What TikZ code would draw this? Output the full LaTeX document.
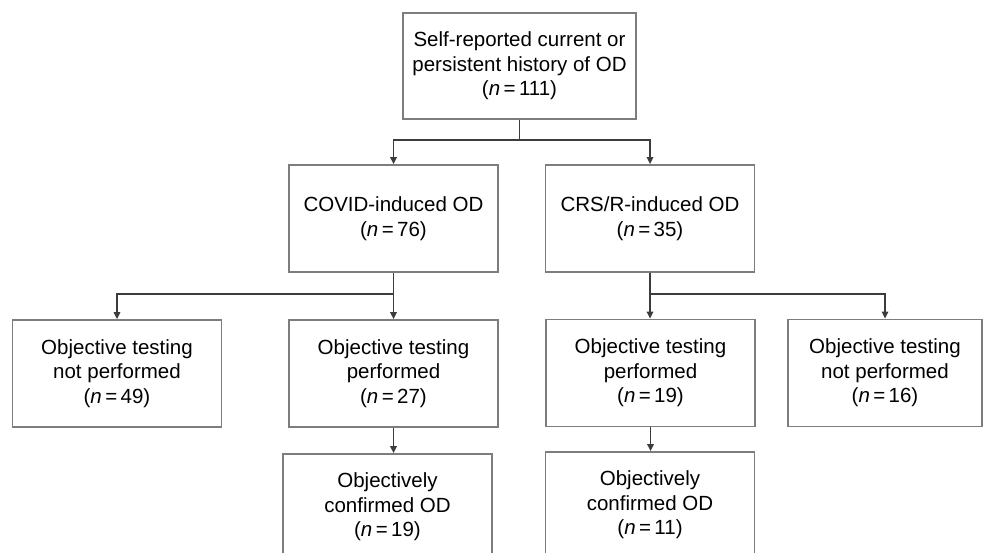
\documentclass[tikz,border=0pt]{standalone}
\usepackage{fontspec}
\setmainfont{Liberation Sans}
\usepackage{xcolor}
\usetikzlibrary{arrows.meta,positioning,calc}
\definecolor{boxgray}{RGB}{125,125,125}
\definecolor{linegray}{RGB}{60,60,60}

\begin{document}
\begin{tikzpicture}[x=1pt, y=-1pt,
  box/.style={rectangle, draw=boxgray, line width=1.8pt, fill=white,
    minimum width=209pt, minimum height=107pt, inner sep=0pt, align=center,
    font=\fontsize{20.5}{24.5}\selectfont},
  link/.style={linegray, line width=1.4pt},
  arr/.style={link, -{Triangle[length=7pt, width=6.5pt]}}]
\useasboundingbox (0,0) rectangle (983,553);
\node[box, minimum width=233pt, minimum height=106pt] (root) at (519.5,66)
  {Self-reported current or\\persistent history of OD\\(\textit{n}\,=\,111)};
\node[box] (covid) at (393.5,218.5) {COVID-induced OD\\(\textit{n}\,=\,76)};
\node[box] (crs) at (650,218.5) {CRS/R-induced OD\\(\textit{n}\,=\,35)};
\node[box] (covidno) at (117,373.5) {Objective testing\\not performed\\(\textit{n}\,=\,49)};
\node[box] (covidyes) at (393.5,373.5) {Objective testing\\performed\\(\textit{n}\,=\,27)};
\node[box] (crsyes) at (650.5,373) {Objective testing\\performed\\(\textit{n}\,=\,19)};
\node[box, minimum width=194pt] (crsno) at (885,373) {Objective testing\\not performed\\(\textit{n}\,=\,16)};
\node[box, minimum height=106pt] (covidok) at (387.5,507) {Objectively\\confirmed OD\\(\textit{n}\,=\,19)};
\node[box, minimum height=106pt] (crsok) at (650,505) {Objectively\\confirmed OD\\(\textit{n}\,=\,11)};
% split of the whole group
\draw[link] (root.south) -- ++(0,20) coordinate (jroot);
\draw[arr] (jroot) -| (covid.north);
\draw[arr] (jroot) -| (crs.north);
% COVID branch
\draw[link] (covid.south) -- ++(0,21) coordinate (jcovid);
\draw[arr] (jcovid) -| (covidno.north);
\draw[arr] (jcovid) -- (covidyes.north);
\draw[arr] (covidyes.south) -- (covidyes.south |- covidok.north);
% CRS/R branch
\draw[link] (crs.south) -- ++(0,21) coordinate (jcrs);
\draw[arr] (jcrs) -- (jcrs |- crsyes.north);
\draw[arr] (jcrs) -| (crsno.north);
\draw[arr] (crsyes.south) -- (crsyes.south |- crsok.north);
\end{tikzpicture}
\end{document}
